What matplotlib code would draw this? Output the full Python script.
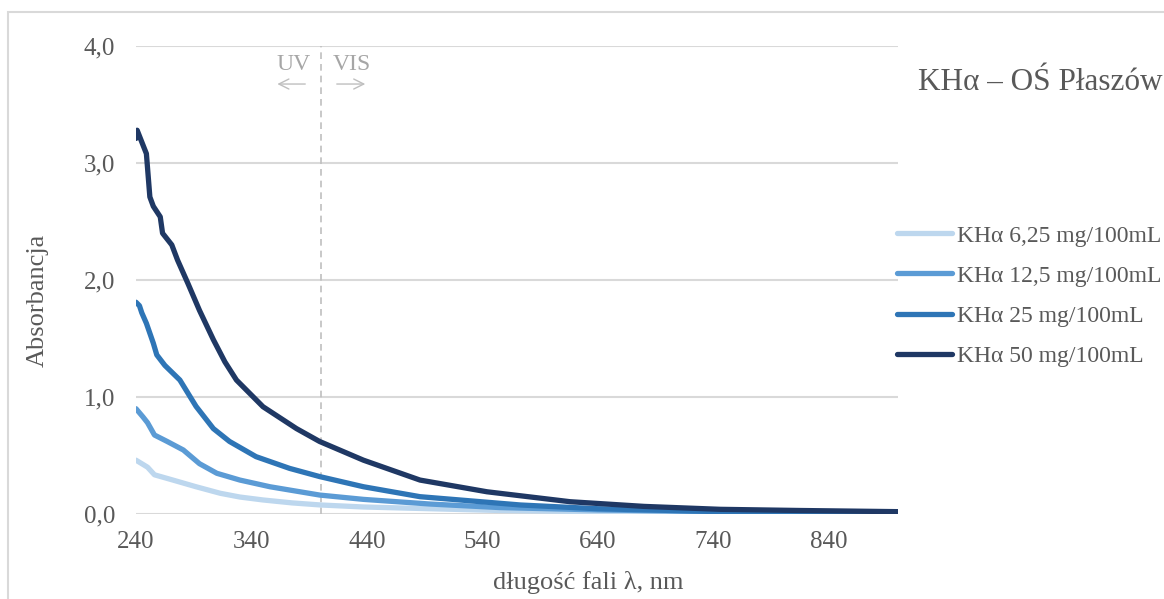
import matplotlib.pyplot as plt
from matplotlib.patches import Rectangle

plt.rcParams['font.family'] = ['Liberation Serif', 'DejaVu Serif']

# wavelengths (nm) and absorbance
wl_625 = [240, 245, 250, 256, 272, 292, 313, 330, 350, 375, 400, 437, 495, 555, 640, 740, 900]
abs_625 = [0.46, 0.43, 0.40, 0.335, 0.29, 0.233, 0.177, 0.145, 0.12, 0.095, 0.077, 0.06, 0.045,
           0.03, 0.02, 0.012, 0.006]

wl_125 = [240, 246, 250, 256, 267, 281, 295, 310, 330, 356, 399, 437, 495, 555, 640, 740, 900]
abs_125 = [0.90, 0.83, 0.78, 0.675, 0.62, 0.547, 0.43, 0.348, 0.29, 0.233, 0.162, 0.125, 0.085,
           0.055, 0.035, 0.02, 0.01]

wl_25 = [240, 243, 245, 249, 255, 258, 265, 278, 292, 307, 321, 344, 373, 399, 437, 486, 573,
         640, 746, 900]
abs_25 = [1.81, 1.78, 1.72, 1.63, 1.46, 1.36, 1.27, 1.145, 0.92, 0.73, 0.62, 0.49, 0.39, 0.32,
          0.233, 0.148, 0.077, 0.045, 0.02, 0.012]

wl_50 = [240, 241, 245, 249, 252, 255, 261, 263, 271, 276, 285, 295, 307, 317, 327, 350,
         379, 399, 437, 486, 544, 616, 680, 746, 815, 900]
abs_50 = [3.21, 3.28, 3.18, 3.08, 2.71, 2.63, 2.54, 2.40, 2.30, 2.17, 1.97, 1.74, 1.49, 1.30,
          1.145, 0.917, 0.73, 0.62, 0.46, 0.29, 0.19, 0.105, 0.065, 0.04, 0.03, 0.02]

series = [
    ('KHα 6,25 mg/100mL', wl_625, abs_625, '#BDD7EE'),
    ('KHα 12,5 mg/100mL', wl_125, abs_125, '#5B9BD5'),
    ('KHα 25 mg/100mL', wl_25, abs_25, '#2E75B6'),
    ('KHα 50 mg/100mL', wl_50, abs_50, '#1F3864'),
]

grey = '#595959'
W, H = 1164, 599
fig = plt.figure(figsize=(11.64, 5.99), dpi=100)
ax = fig.add_axes([136 / W, 1 - 514 / H, (898 - 136) / W, (514 - 46) / H])

# chart border (cut off at right/bottom like the reference)
fig.patches.append(Rectangle((8 / W, -0.1), 1.2, 1 - 12 / H + 0.1,
                             transform=fig.transFigure, fill=False,
                             edgecolor='#D9D9D9', lw=1.5, clip_on=False))

for label, x, y, c in series:
    ax.plot(x, y, color=c, lw=3.8, label=label, solid_capstyle='round',
            solid_joinstyle='round')

ax.set_xlim(240, 900)
ax.set_ylim(0, 4.0)
ax.set_xticks(range(240, 900, 100))
ax.set_yticks([0, 1, 2, 3, 4])
ax.set_yticklabels(['0,0', '1,0', '2,0', '3,0', '4,0'])
ax.grid(axis='y', color='#D9D9D9', lw=1.5)
ax.set_axisbelow(True)
for s in ax.spines.values():
    s.set_visible(False)
ax.tick_params(axis='y', length=0, labelsize=18, colors=grey, pad=15)
ax.tick_params(axis='x', length=0, labelsize=18, colors=grey, pad=12)

ax.axvline(400, color='#BFBFBF', lw=1.2, ls=(0, (4, 3)), zorder=1)
ax.text(391, 3.846, 'UV', ha='right', va='center', color='#A6A6A6', fontsize=17)
ax.text(410.5, 3.846, 'VIS', ha='left', va='center', color='#A6A6A6', fontsize=17)
ax.annotate('', xy=(360, 3.675), xytext=(389, 3.675),
            arrowprops=dict(arrowstyle='->', color='#BFBFBF', lw=1,
                            mutation_scale=18))
ax.annotate('', xy=(441, 3.675), xytext=(411.5, 3.675),
            arrowprops=dict(arrowstyle='->', color='#BFBFBF', lw=1,
                            mutation_scale=18))

fig.text(588 / W, 1 - 583 / H, 'długość fali λ, nm', fontsize=19, color=grey,
         ha='center', va='center')
fig.text(38 / W, 1 - 300 / H, 'Absorbancja', fontsize=19, color=grey,
         ha='center', va='center', rotation=90)

fig.text(918 / W, 1 - 83 / H, 'KHα – OŚ Płaszów', fontsize=22.5,
         color=grey, va='center', ha='left')

ax.legend(loc='upper left', bbox_to_anchor=(0.9987, 0.6175), frameon=False,
          fontsize=17, handlelength=2.33, handletextpad=0.2, labelspacing=0.79,
          labelcolor=grey, borderaxespad=0, borderpad=0)

fig.savefig('out.png', dpi=100)
